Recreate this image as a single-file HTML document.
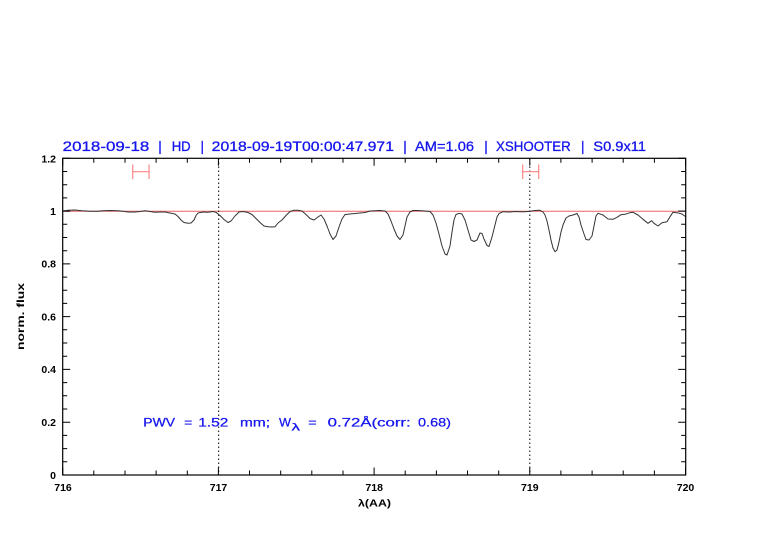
<!DOCTYPE html>
<html><head><meta charset="utf-8"><style>
html,body{margin:0;padding:0;background:#fff;}
svg{display:block;}
text{font-family:"Liberation Sans",sans-serif;}
</style></head><body>
<svg width="782" height="542" viewBox="0 0 782 542" xmlns="http://www.w3.org/2000/svg">
<rect width="782" height="542" fill="#fff"/>
<!-- title -->
<g font-size="13.5" fill="#1515ee" stroke="#1515ee" stroke-width="0.3">
<text x="62.7" y="151" textLength="86.6" lengthAdjust="spacingAndGlyphs">2018-09-18</text>
<text x="160" y="151" text-anchor="middle">|</text>
<text x="171.7" y="151" textLength="19" lengthAdjust="spacingAndGlyphs">HD</text>
<text x="202.3" y="151" text-anchor="middle">|</text>
<text x="211.7" y="151" textLength="182.3" lengthAdjust="spacingAndGlyphs">2018-09-19T00:00:47.971</text>
<text x="405" y="151" text-anchor="middle">|</text>
<text x="415" y="151" textLength="59" lengthAdjust="spacingAndGlyphs">AM=1.06</text>
<text x="486" y="151" text-anchor="middle">|</text>
<text x="496" y="151" textLength="74.7" lengthAdjust="spacingAndGlyphs">XSHOOTER</text>
<text x="582.7" y="151" text-anchor="middle">|</text>
<text x="593.3" y="151" textLength="52.7" lengthAdjust="spacingAndGlyphs">S0.9x11</text>
</g>
<!-- red line at 1 -->
<line x1="63" y1="211.2" x2="686" y2="211.2" stroke="#ec6464" stroke-width="1"/>
<!-- dotted lines -->
<line x1="218.7" y1="158.5" x2="218.7" y2="475" stroke="#000" stroke-width="1" stroke-dasharray="1.5 2.5"/>
<line x1="529.8" y1="158.5" x2="529.8" y2="475" stroke="#000" stroke-width="1" stroke-dasharray="1.5 2.5"/>
<!-- error bars -->
<g stroke="#ff8585" stroke-width="1.2" fill="none">
<line x1="132.7" y1="171.7" x2="149" y2="171.7"/>
<line x1="132.7" y1="164.5" x2="132.7" y2="179"/>
<line x1="149" y1="164.5" x2="149" y2="179"/>
<line x1="522.7" y1="171.7" x2="538.7" y2="171.7"/>
<line x1="522.7" y1="164.5" x2="522.7" y2="179"/>
<line x1="538.7" y1="164.5" x2="538.7" y2="179"/>
</g>
<!-- spectrum -->
<polyline fill="none" stroke="#333" stroke-width="1" stroke-linejoin="round" points="63,211 68,210.3 75,210 82,210.7 90,211.3 97,211.3 103,210.7 110,210.5 118,210.7 123,211.3 128,212 135,212 140,211.5 145,210.8 150,211.5 155,212.3 160,212 165,212 170,213 175,214 178,216.5 181,220 184,222.5 188,223.3 191,223 194,220 196,215.5 198,213 203,212 208,212.3 213,211.5 216,212.3 220,215.5 224,219.5 228,222.5 231,221 235,216 239,212 243,211.5 248,212.5 252,214.5 256,218.5 260,222.5 264,226 268,226.8 272,227 275,226.8 278,223 282,220 286,215.5 290,211.5 294,210.2 298,210.3 302,211 306,214.5 310,218.5 314,220 318,217 321,215 324,219 327,226 330,234 333,239.5 336,236 339,227 342,219 345,214.5 350,214 355,213.5 360,213 365,212.5 370,211 375,210.7 380,210.5 385,211 388,214 391,221 394,229 397,236 400,239.5 403,235 405,226 407,217 410,212 413,210.5 418,210.5 425,211 430,211.5 433,215 436,223 439,234 442,246 445,254 447,255 450,246 452,232 454,220 456,214.5 459,213.3 462,214 465,220 468,230 471,240 474,241.5 477,240 480,233 482,233.5 484,239 487,245.5 489,246.5 492,237 495,225 497,217 499,213.5 503,211.7 510,212 515,211.5 520,211.7 525,211.7 530,211.2 535,210.5 540,210.3 543,212 545,215 547,221 549,230 551,240 553,248 555,251.7 557,250 559,242 561,232 563,225 566,218 569,216 573,215 577,213.5 579,217 581,225 584,234 586,239.5 589,240 592,236 594,226 596,216 598,213.3 603,215 608,219 613,219.3 617,217.3 621,214.7 625,214.3 630,212.7 633,212.3 638,215 643,219.3 648,223.3 651.7,220.7 654,223.3 658,226 662,222.7 667,221.7 670,216.7 673,212.3 677,212.7 682,214 686,217"/>
<!-- frame -->
<rect x="62.7" y="158.3" width="623" height="316.7" fill="none" stroke="#000" stroke-width="1.2"/>
<!-- ticks -->
<g stroke="#000" stroke-width="1">
<path d="M62.7,475v-7.5M93.8,475v-4.5M125,475v-4.5M156.1,475v-4.5M187.3,475v-4.5M218.4,475v-7.5M249.5,475v-4.5M280.7,475v-4.5M311.8,475v-4.5M343,475v-4.5M374.1,475v-7.5M405.2,475v-4.5M436.4,475v-4.5M467.5,475v-4.5M498.7,475v-4.5M529.8,475v-7.5M560.9,475v-4.5M592.1,475v-4.5M623.2,475v-4.5M654.4,475v-4.5M685.5,475v-7.5"/>
<path d="M62.7,158.3v7.5M93.8,158.3v4.5M125,158.3v4.5M156.1,158.3v4.5M187.3,158.3v4.5M218.4,158.3v7.5M249.5,158.3v4.5M280.7,158.3v4.5M311.8,158.3v4.5M343,158.3v4.5M374.1,158.3v7.5M405.2,158.3v4.5M436.4,158.3v4.5M467.5,158.3v4.5M498.7,158.3v4.5M529.8,158.3v7.5M560.9,158.3v4.5M592.1,158.3v4.5M623.2,158.3v4.5M654.4,158.3v4.5M685.5,158.3v7.5"/>
<path d="M62.7,475h7.5M62.7,461.8h4.5M62.7,448.6h4.5M62.7,435.4h4.5M62.7,422.2h7.5M62.7,409h4.5M62.7,395.8h4.5M62.7,382.6h4.5M62.7,369.4h7.5M62.7,356.2h4.5M62.7,343h4.5M62.7,329.8h4.5M62.7,316.6h7.5M62.7,303.4h4.5M62.7,290.3h4.5M62.7,277.1h4.5M62.7,263.9h7.5M62.7,250.7h4.5M62.7,237.5h4.5M62.7,224.3h4.5M62.7,211.1h7.5M62.7,197.9h4.5M62.7,184.7h4.5M62.7,171.5h4.5M62.7,158.3h7.5"/>
<path d="M685.7,475h-7.5M685.7,461.8h-4.5M685.7,448.6h-4.5M685.7,435.4h-4.5M685.7,422.2h-7.5M685.7,409h-4.5M685.7,395.8h-4.5M685.7,382.6h-4.5M685.7,369.4h-7.5M685.7,356.2h-4.5M685.7,343h-4.5M685.7,329.8h-4.5M685.7,316.6h-7.5M685.7,303.4h-4.5M685.7,290.3h-4.5M685.7,277.1h-4.5M685.7,263.9h-7.5M685.7,250.7h-4.5M685.7,237.5h-4.5M685.7,224.3h-4.5M685.7,211.1h-7.5M685.7,197.9h-4.5M685.7,184.7h-4.5M685.7,171.5h-4.5M685.7,158.3h-7.5"/>
</g>
<!-- y labels -->
<g font-size="10.5" font-weight="bold" fill="#000" text-anchor="end">
<text x="56" y="479">0</text>
<text x="56" y="426">0.2</text>
<text x="56" y="373">0.4</text>
<text x="56" y="320.5">0.6</text>
<text x="56" y="267.5">0.8</text>
<text x="56" y="215">1</text>
<text x="56" y="162.5">1.2</text>
</g>
<!-- x labels -->
<g font-size="10.5" font-weight="bold" fill="#000" text-anchor="middle">
<text x="63" y="491">716</text>
<text x="218.5" y="491">717</text>
<text x="374.2" y="491">718</text>
<text x="529.8" y="491">719</text>
<text x="685.5" y="491">720</text>
</g>
<text x="358" y="506.5" font-size="10.5" font-weight="bold" fill="#000" textLength="33" lengthAdjust="spacingAndGlyphs">λ(AA)</text>
<text transform="translate(24,350) rotate(-90)" x="0" y="0" font-size="10.5" font-weight="bold" fill="#000" textLength="67" lengthAdjust="spacingAndGlyphs">norm. flux</text>
<!-- PWV annotation -->
<g fill="#1515ee" stroke="#1515ee" stroke-width="0.25" font-size="12">
<text x="143.3" y="426.5" textLength="31.7" lengthAdjust="spacingAndGlyphs">PWV</text>
<text x="184.3" y="426.5" textLength="8" lengthAdjust="spacingAndGlyphs">=</text>
<text x="198.3" y="426.5" textLength="30" lengthAdjust="spacingAndGlyphs">1.52</text>
<text x="240" y="426.5" textLength="30" lengthAdjust="spacingAndGlyphs">mm;</text>
<text x="279" y="426.5" textLength="12" lengthAdjust="spacingAndGlyphs">W</text>
<text x="291.5" y="430.5" font-size="10" textLength="8.5" lengthAdjust="spacingAndGlyphs">λ</text>
<text x="308.3" y="426.5" textLength="8.4" lengthAdjust="spacingAndGlyphs">=</text>
<text x="327.7" y="426.5" textLength="83" lengthAdjust="spacingAndGlyphs">0.72Å(corr:</text>
<text x="418" y="426.5" textLength="33" lengthAdjust="spacingAndGlyphs">0.68)</text>
</g>
</svg>
</body></html>
